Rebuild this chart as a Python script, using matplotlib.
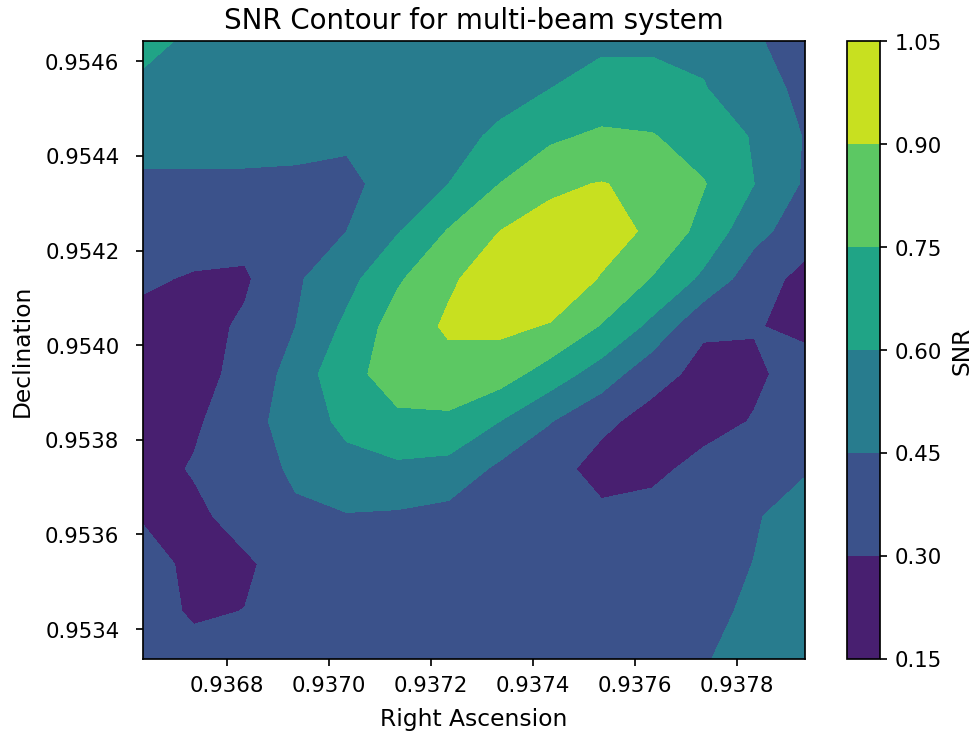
import numpy as np
import matplotlib
matplotlib.use("Agg")
import matplotlib.pyplot as plt

# Sky grid (radians)
ra = np.linspace(0.936634, 0.937934, 14)
dec = np.linspace(0.953337, 0.954642, 14)

# SNR on the grid, rows listed from the highest declination down to the lowest
snr_rows = [
    [0.66, 0.56, 0.54, 0.54, 0.55, 0.55, 0.55, 0.56, 0.57, 0.585, 0.585, 0.56, 0.46, 0.41],
    [0.556, 0.53, 0.51, 0.51, 0.51, 0.52, 0.53, 0.56, 0.60, 0.63, 0.63, 0.61, 0.50, 0.42],
    [0.49, 0.49, 0.49, 0.48, 0.47, 0.52, 0.56, 0.62, 0.72, 0.78, 0.76, 0.67, 0.59, 0.44],
    [0.43, 0.43, 0.43, 0.43, 0.42, 0.50, 0.60, 0.75, 0.88, 0.905, 0.87, 0.76, 0.60, 0.43],
    [0.36, 0.35, 0.35, 0.40, 0.45, 0.59, 0.76, 0.90, 0.94, 0.96, 0.875, 0.70, 0.50, 0.36],
    [0.315, 0.29, 0.28, 0.43, 0.55, 0.73, 0.88, 0.97, 1.00, 0.89, 0.74, 0.57, 0.36, 0.26],
    [0.27, 0.25, 0.32, 0.45, 0.63, 0.82, 0.92, 0.93, 0.89, 0.74, 0.56, 0.32, 0.31, 0.26],
    [0.24, 0.27, 0.325, 0.52, 0.70, 0.82, 0.85, 0.82, 0.68, 0.53, 0.35, 0.26, 0.27, 0.37],
    [0.23, 0.28, 0.38, 0.53, 0.63, 0.72, 0.72, 0.60, 0.455, 0.33, 0.25, 0.24, 0.31, 0.38],
    [0.25, 0.31, 0.36, 0.48, 0.56, 0.57, 0.55, 0.42, 0.35, 0.25, 0.26, 0.35, 0.40, 0.44],
    [0.29, 0.27, 0.35, 0.42, 0.44, 0.43, 0.40, 0.38, 0.36, 0.33, 0.36, 0.38, 0.44, 0.50],
    [0.35, 0.27, 0.28, 0.36, 0.39, 0.40, 0.40, 0.39, 0.38, 0.38, 0.39, 0.41, 0.452, 0.52],
    [0.35, 0.285, 0.302, 0.35, 0.38, 0.39, 0.39, 0.39, 0.39, 0.39, 0.40, 0.42, 0.47, 0.53],
    [0.36, 0.34, 0.35, 0.37, 0.38, 0.39, 0.39, 0.39, 0.39, 0.40, 0.41, 0.44, 0.50, 0.55],
]

levels = [0.15, 0.30, 0.45, 0.60, 0.75, 0.90, 1.05]

snr = np.flipud(np.array(snr_rows))
RA, DEC = np.meshgrid(ra, dec)

fig = plt.figure(figsize=(6.4, 4.8), dpi=153)
ax = fig.add_axes([0.1458, 0.1022, 0.6765, 0.8410])
cax = fig.add_axes([0.8649, 0.1022, 0.0333, 0.8410])

cs = ax.contourf(RA, DEC, snr, levels=levels, cmap="viridis")
cbar = fig.colorbar(cs, cax=cax)
cbar.set_label("SNR", fontsize=11)

ax.ticklabel_format(useOffset=False)
ax.set_xticks([0.9368, 0.9370, 0.9372, 0.9374, 0.9376, 0.9378])
ax.set_yticks([0.9534, 0.9536, 0.9538, 0.9540, 0.9542, 0.9544, 0.9546])
ax.tick_params(axis="y", pad=7.5)
ax.tick_params(axis="x", pad=4.5)
ax.set_title("SNR Contour for multi-beam system", fontsize=13)
ax.set_xlabel("Right Ascension", fontsize=11, labelpad=5.5)
ax.set_ylabel("Declination", fontsize=11, labelpad=5.5)

fig.savefig("out.png", dpi=153)
